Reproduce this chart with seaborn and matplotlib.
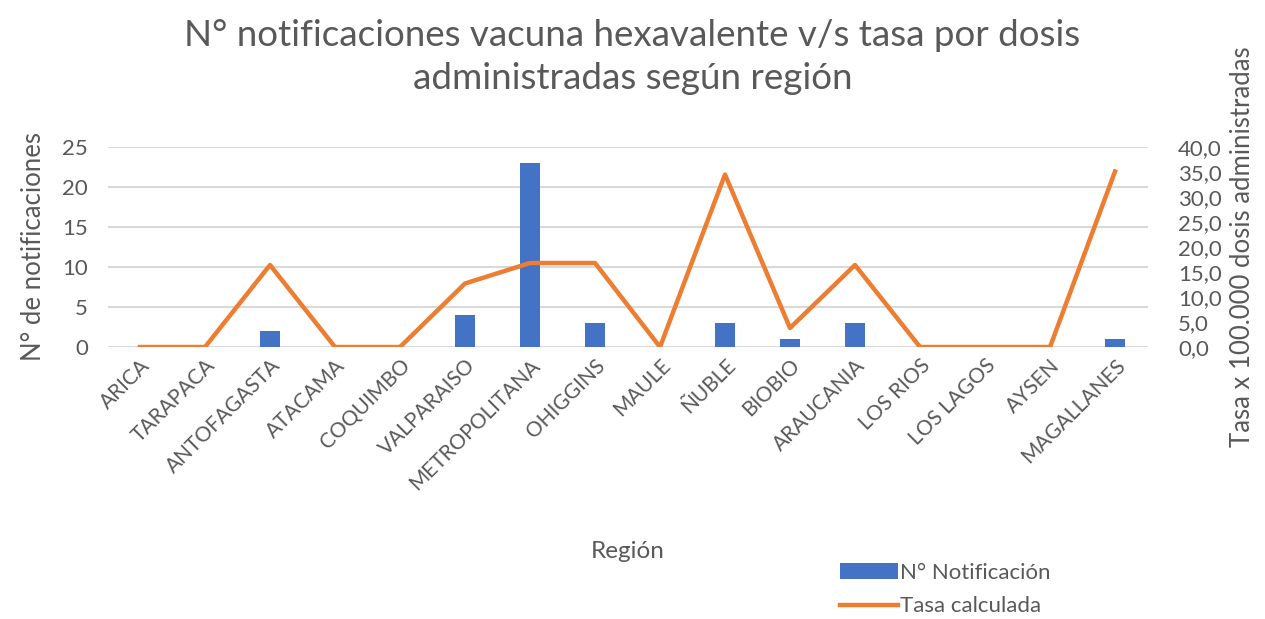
import seaborn as sns
import matplotlib.pyplot as plt
import pandas as pd

# datos por región
regiones = ["ARICA", "TARAPACA", "ANTOFAGASTA", "ATACAMA", "COQUIMBO", "VALPARAISO",
            "METROPOLITANA", "OHIGGINS", "MAULE", "ÑUBLE", "BIOBIO", "ARAUCANIA",
            "LOS RIOS", "LOS LAGOS", "AYSEN", "MAGALLANES"]
notificaciones = [0, 0, 2, 0, 0, 4, 23, 3, 0, 3, 1, 3, 0, 0, 0, 1]
tasa = [0, 0, 16.4, 0, 0, 12.7, 16.8, 16.8, 0, 34.5, 3.8, 16.4, 0, 0, 0, 35.1]

df = pd.DataFrame({"Región": regiones, "N° Notificación": notificaciones, "Tasa calculada": tasa})

gris = "#595959"
plt.rcParams['font.family'] = ['Lato', 'DejaVu Sans']

fig = plt.figure(figsize=(12.65, 6.19), dpi=100)
ax = fig.add_axes([107.5 / 1265, 1 - 347 / 619, 1040 / 1265, 200 / 619])

sns.barplot(data=df, x="Región", y="N° Notificación", color="#4472C4", width=0.3,
            saturation=1, ax=ax, label="N° Notificación")
ax.set_ylim(0, 25)
ax.set_yticks([0, 5, 10, 15, 20, 25])
ax.yaxis.grid(True, color="#D9D9D9", linewidth=1.5)
ax.set_axisbelow(True)

ax2 = ax.twinx()
sns.lineplot(data=df, x="Región", y="Tasa calculada", color="#ED7D31", linewidth=3.2,
             ax=ax2, label="Tasa calculada", legend=False)
ax2.set_ylim(0, 40)
ax2.set_yticks(range(0, 45, 5))
ax2.set_yticklabels([f"{v},0" for v in range(0, 45, 5)])
ax.set_xlim(-0.5, len(regiones) - 0.5)

for a in (ax, ax2):
    for s in a.spines.values():
        s.set_visible(False)
    a.tick_params(length=0, colors=gris, labelsize=16)

ax.tick_params(axis="y", pad=14)
ax2.tick_params(axis="y", pad=22)
ax.tick_params(axis="x", labelsize=15, pad=6)
plt.setp(ax.get_xticklabels(), rotation=45, ha="right", rotation_mode="anchor")

ax.set_ylabel("N° de notificaciones", fontsize=18.5, color=gris, labelpad=12)
ax2.set_ylabel("Tasa x 100.000 dosis administradas", fontsize=18.5, color=gris, labelpad=6)
ax.set_xlabel("Región", fontsize=17.5, color=gris)
ax.xaxis.set_label_coords(0.5, -0.97)

fig.suptitle("N° notificaciones vacuna hexavalente v/s tasa por dosis\nadministradas según región",
             fontsize=26.5, color=gris, y=0.97, linespacing=1.4)

h1, l1 = ax.get_legend_handles_labels()
h2, l2 = ax2.get_legend_handles_labels()
if ax.get_legend():
    ax.get_legend().remove()
fig.legend(h1 + h2, l1 + l2, loc="upper left", bbox_to_anchor=(820 / 1265, 1 - 543 / 619),
           frameon=False, fontsize=16, labelcolor=gris, handlelength=2.6, handletextpad=0.1,
           labelspacing=0.6)

fig.savefig("out.png", dpi=100)
